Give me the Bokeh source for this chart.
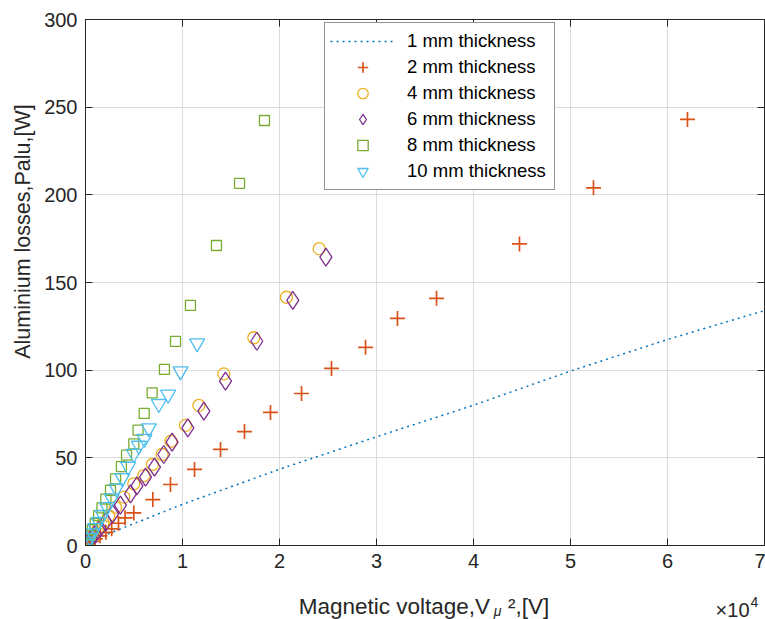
import math
from bokeh.plotting import figure
from bokeh.models import Range1d, FixedTicker, LinearAxis, Legend, LegendItem, Label
from bokeh.layouts import row, column
from bokeh.embed import file_html
from bokeh.resources import INLINE

# ---------------- data ----------------
x_ticks = [0, 10000, 20000, 30000, 40000, 50000, 60000, 70000]
x_tick_labels = ["0", "1", "2", "3", "4", "5", "6", "7"]
y_ticks = [0, 50, 100, 150, 200, 250, 300]

# 1 mm thickness (dotted line)
t1_x = [0, 10000, 20000, 30000, 40000, 50000, 60000, 70000]
t1_y = [1.5, 23.5, 43.5, 62, 80, 99.5, 117.5, 134]

# 2 mm thickness
t2_x = [62060, 52370, 44740, 36190, 32160, 28870, 25360, 22270, 19070, 16390,
        13920, 11240, 8760, 6940, 4980, 4080, 3400, 2700, 2100, 1500, 1000, 600, 300, 100]
t2_y = [243, 204, 172, 141, 129.5, 113, 101, 86.7, 75.9, 65,
        54.8, 43.4, 34.8, 26.2, 18.6, 15.8, 12.7, 9.5, 7.5, 5.5, 3.8, 2.3, 1.2, 0.5]

# 4 mm thickness
t4_x = [24090, 20720, 17350, 14260, 11690, 10310, 8820, 7900, 6900, 6010,
        4980, 3950, 3090, 2400, 1800, 1250, 800, 450, 200, 60]
t4_y = [169.3, 141.6, 118.5, 97.9, 79.9, 68.5, 59.5, 51.9, 46.2, 39.9,
        35.2, 27.6, 21.8, 17, 12.8, 9, 5.8, 3.3, 1.5, 0.5]

# 6 mm thickness
t6_x = [24780, 21370, 17660, 14430, 12200, 10550, 8930, 8070, 7110, 6190,
        5300, 4640, 3600, 2800, 2100, 1500, 1000, 600, 300, 100]
t6_y = [164.5, 139.8, 116.5, 93.7, 76.6, 67.1, 58.9, 51.9, 44.7, 39,
        34, 29.5, 23, 18, 13.5, 9.8, 6.5, 3.9, 2, 0.7]

# 8 mm thickness
t8_x = [18450, 15880, 13500, 10820, 9280, 8140, 6870, 6050, 5420, 4980, 4230,
        3700, 3100, 2580, 2100, 1700, 1350, 1000, 700, 450, 250, 100]
t8_y = [242.4, 206.5, 171.1, 136.9, 116.4, 100.4, 87.1, 75.3, 65.8, 58, 51.5,
        45, 38, 31.5, 26.5, 21.5, 17, 12.5, 9, 5.8, 3.2, 1.3]

# 10 mm thickness
t10_x = [11510, 9790, 8520, 7560, 6530, 6080, 5500, 4980, 4400, 3800,
         3200, 2700, 2200, 1750, 1350, 1000, 700, 450, 250, 100]
t10_y = [115.4, 99.4, 86.1, 80.8, 66.9, 60.9, 57, 52.3, 45, 38.5,
         32.5, 27, 22, 17.5, 13.5, 10, 7, 4.5, 2.5, 1]

labels = ["1 mm thickness", "2 mm thickness", "4 mm thickness",
          "6 mm thickness", "8 mm thickness", "10 mm thickness"]

y_label = "Aluminium losses,Palu,[W]"
x_label_main = "Magnetic voltage,V"
x_label_sub = "μ"
x_label_end = "²,[V]"

# ---------------- style ----------------
FONT = "Liberation Sans"
AX = "#262626"
C_BLUE = "#0072BD"
C_ORANGE = "#D95319"
C_YELLOW = "#EDB120"
C_PURPLE = "#7E2F8E"
C_GREEN = "#77AC30"
C_CYAN = "#4DBEEE"


def blank(w, h):
    f = figure(width=w, height=h, output_backend="svg", toolbar_location=None,
               x_range=Range1d(0, w), y_range=Range1d(0, h),
               x_axis_type=None, y_axis_type=None, min_border=0)
    f.outline_line_color = None
    f.background_fill_color = "white"
    f.border_fill_color = "white"
    return f


p = figure(width=725, height=580, output_backend="svg", toolbar_location=None,
           x_range=Range1d(0, 70000), y_range=Range1d(0, 300),
           min_border_left=45, min_border_right=1, min_border_top=19,
           min_border_bottom=35)
p.background_fill_color = "white"
p.border_fill_color = "white"
p.outline_line_color = AX
p.outline_line_width = 1

p.xaxis.ticker = FixedTicker(ticks=x_ticks)
p.xaxis.major_label_overrides = {t: l for t, l in zip(x_ticks, x_tick_labels)}
p.yaxis.ticker = FixedTicker(ticks=y_ticks)

for ax in [p.xaxis[0], p.yaxis[0]]:
    ax.axis_line_color = AX
    ax.axis_line_width = 1
    ax.major_tick_line_color = AX
    ax.major_tick_in = 7
    ax.major_tick_out = 0
    ax.minor_tick_line_color = None
    ax.major_label_text_font = FONT
    ax.major_label_text_font_size = "20px"
    ax.major_label_text_color = AX
p.yaxis.major_label_standoff = 8
p.xaxis.major_label_standoff = 8

for place, ticks in [("right", y_ticks), ("above", x_ticks)]:
    ax = LinearAxis(ticker=FixedTicker(ticks=ticks), major_label_text_font_size="1px",
                    major_label_text_color=None, major_label_standoff=0,
                    major_tick_in=7, major_tick_out=0, minor_tick_line_color=None,
                    axis_line_color=AX, major_tick_line_color=AX)
    p.add_layout(ax, place)

p.grid.grid_line_color = "#DCDCDC"
p.grid.grid_line_width = 1
p.xgrid.ticker = FixedTicker(ticks=x_ticks)
p.ygrid.ticker = FixedTicker(ticks=y_ticks)

r1 = p.line(t1_x, t1_y, line_color=C_BLUE, line_width=1.5, line_dash="2 4")
r2 = p.scatter(t2_x, t2_y, marker="cross", size=15, line_color=C_ORANGE, line_width=1.7)
r4 = p.scatter(t4_x, t4_y, marker="circle", size=12, line_color=C_YELLOW,
               fill_color=None, line_width=1.3)
r6 = p.scatter(t6_x, t6_y, marker="diamond", size=18, line_color=C_PURPLE,
               fill_color=None, line_width=1.3)
r8 = p.scatter(t8_x, t8_y, marker="square", size=10, line_color=C_GREEN,
               fill_color=None, line_width=1.3)
r10 = p.scatter(t10_x, t10_y, marker="inverted_triangle", size=15, line_color=C_CYAN,
                fill_color=None, line_width=1.3)

legend = Legend(items=[LegendItem(label=l, renderers=[r])
                       for l, r in zip(labels, [r1, r2, r4, r6, r8, r10])],
                location=(239, 355), glyph_width=65, glyph_height=26, label_height=26,
                spacing=0, padding=5, margin=0, label_standoff=12, label_width=142,
                label_text_font=FONT, label_text_font_size="18.5px",
                label_text_color="#000000",
                border_line_color=AX, border_line_width=1,
                background_fill_color="white", background_fill_alpha=1)
p.add_layout(legend)

# left strip with the y label
left = blank(40, 619)
left.add_layout(Label(x=22, y=388, text=y_label, angle=math.pi / 2,
                      text_align="center", text_baseline="middle", text_font=FONT,
                      text_font_size="21.5px", text_color=AX))

# bottom strip with the x label and the exponent
bottom = blank(725, 39)
bottom.add_layout(Label(x=432, y=13, text=x_label_main, text_align="right",
                        text_baseline="alphabetic", text_font=FONT,
                        text_font_size="22.5px", text_color=AX))
bottom.add_layout(Label(x=436, y=9, text=x_label_sub, text_align="left",
                        text_baseline="alphabetic", text_font=FONT,
                        text_font_size="14px", text_font_style="italic", text_color=AX))
bottom.add_layout(Label(x=451, y=13, text=x_label_end, text_align="left",
                        text_baseline="alphabetic", text_font=FONT,
                        text_font_size="22.5px", text_color=AX))
bottom.add_layout(Label(x=709, y=10, text="×10", text_align="right",
                        text_baseline="alphabetic", text_font=FONT,
                        text_font_size="20px", text_color=AX))
bottom.add_layout(Label(x=710, y=18, text="4", text_align="left",
                        text_baseline="alphabetic", text_font=FONT,
                        text_font_size="14px", text_color=AX))

layout = row(left, column(p, bottom))
open("out.html", "w").write(file_html(layout, INLINE))
